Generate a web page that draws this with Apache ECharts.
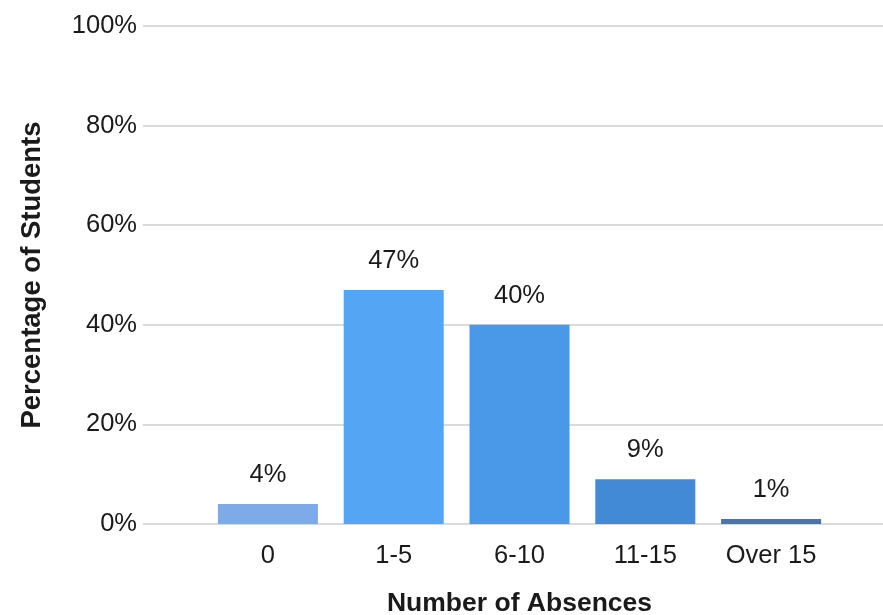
<!DOCTYPE html>
<html>
<head>
<meta charset="utf-8">
<script src="https://cdn.jsdelivr.net/npm/echarts@6/dist/echarts.min.js"></script>
<style>
html,body{margin:0;padding:0;background:#fff;}
#chart{width:883px;height:615px;}
</style>
</head>
<body>
<div id="chart"></div>
<script>
const categories = ['0', '1-5', '6-10', '11-15', 'Over 15'];
const percentages = [4, 47, 40, 9, 1];
const yTicks = [0, 20, 40, 60, 80, 100];
const palette = ['#7eaae9', '#55a5f5', '#4a98e8', '#4289d6', '#4a74ad'];

const font = '"Liberation Sans", Arial, sans-serif';
const txt = '#1a1a1a';
const chart = echarts.init(document.getElementById('chart'), null, {renderer: 'canvas'});
chart.setOption({
  animation: false,
  backgroundColor: '#fff',
  grid: [
    {left: 143, right: 0, top: 26, bottom: 91, containLabel: false, outerBoundsMode: 'none'},
    {left: 205, width: 629, top: 26, bottom: 91, containLabel: false, outerBoundsMode: 'none'}
  ],
  xAxis: [
    {gridIndex: 0, type: 'value', show: false, min: 0, max: 1},
    {
      gridIndex: 1, type: 'category', data: categories,
      axisLine: {show: false}, axisTick: {show: false},
      axisLabel: {color: txt, fontSize: 25.5, fontFamily: font, margin: 19},
      name: 'Number of Absences', nameLocation: 'middle', nameGap: 66,
      nameTextStyle: {color: txt, fontSize: 26.5, fontWeight: 'bold', fontFamily: font}
    }
  ],
  yAxis: [
    {
      gridIndex: 0, type: 'value', min: yTicks[0], max: yTicks[yTicks.length - 1], interval: yTicks[1] - yTicks[0],
      axisLine: {show: false}, axisTick: {show: false},
      axisLabel: {color: txt, fontSize: 25.5, fontFamily: font, margin: 6, formatter: '{value}%'},
      splitLine: {lineStyle: {color: '#dadada', width: 2}},
      name: 'Percentage of Students', nameLocation: 'middle', nameGap: 97,
      nameTextStyle: {color: txt, fontSize: 27.5, fontWeight: 'bold', fontFamily: font}
    },
    {gridIndex: 1, type: 'value', min: 0, max: 100, show: false}
  ],
  series: [{
    type: 'bar',
    xAxisIndex: 1, yAxisIndex: 1,
    barWidth: 100,
    data: percentages.map((v, i) => ({value: v, itemStyle: {color: palette[i]}})),
    label: {
      show: true, position: 'top', distance: 16,
      formatter: '{c}%', color: txt, fontSize: 25.5, fontFamily: font
    }
  }]
});
</script>
</body>
</html>
